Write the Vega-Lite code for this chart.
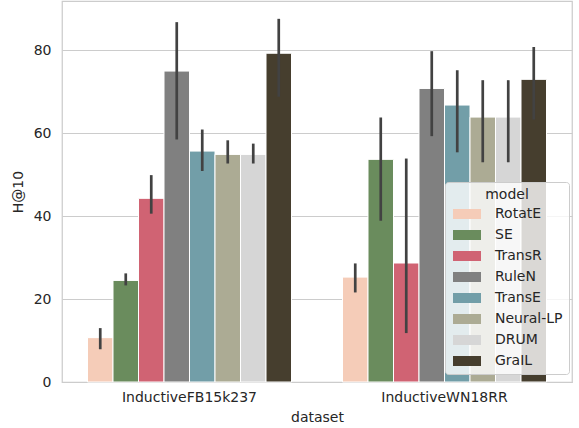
{
  "$schema": "https://vega.github.io/schema/vega-lite/v6.json",
  "autosize": "none",
  "width": 510,
  "height": 381,
  "padding": {"left": 62, "top": 1, "right": 7, "bottom": 46},
  "background": "white",
  "config": {
    "font": "DejaVu Sans",
    "view": {"stroke": "#cccccc", "strokeWidth": 1.25},
    "axis": {
      "labelFont": "DejaVu Sans", "titleFont": "DejaVu Sans",
      "labelFontSize": 14, "titleFontSize": 14, "titleFontWeight": "normal",
      "labelColor": "#262626", "titleColor": "#262626",
      "ticks": false, "tickSize": 0, "domain": false,
      "gridColor": "#cccccc", "gridWidth": 1
    },
    "legend": {
      "labelFont": "DejaVu Sans", "titleFont": "DejaVu Sans"
    }
  },
  "data": {
    "values": [
      {"dataset": "InductiveFB15k237", "model": "RotatE", "value": 10.7, "lo": 7.9, "hi": 13.0},
      {"dataset": "InductiveFB15k237", "model": "SE", "value": 24.5, "lo": 23.3, "hi": 26.2},
      {"dataset": "InductiveFB15k237", "model": "TransR", "value": 44.3, "lo": 40.6, "hi": 49.9},
      {"dataset": "InductiveFB15k237", "model": "RuleN", "value": 75.0, "lo": 58.5, "hi": 86.8},
      {"dataset": "InductiveFB15k237", "model": "TransE", "value": 55.7, "lo": 50.9, "hi": 60.9},
      {"dataset": "InductiveFB15k237", "model": "Neural-LP", "value": 54.9, "lo": 52.7, "hi": 58.3},
      {"dataset": "InductiveFB15k237", "model": "DRUM", "value": 54.9, "lo": 52.7, "hi": 57.5},
      {"dataset": "InductiveFB15k237", "model": "GraIL", "value": 79.3, "lo": 68.8, "hi": 87.6},
      {"dataset": "InductiveWN18RR", "model": "RotatE", "value": 25.3, "lo": 21.6, "hi": 28.6},
      {"dataset": "InductiveWN18RR", "model": "SE", "value": 53.7, "lo": 38.9, "hi": 63.8},
      {"dataset": "InductiveWN18RR", "model": "TransR", "value": 28.7, "lo": 11.8, "hi": 53.9},
      {"dataset": "InductiveWN18RR", "model": "RuleN", "value": 70.8, "lo": 59.3, "hi": 79.8},
      {"dataset": "InductiveWN18RR", "model": "TransE", "value": 66.8, "lo": 55.4, "hi": 75.2},
      {"dataset": "InductiveWN18RR", "model": "Neural-LP", "value": 63.9, "lo": 53.0, "hi": 72.8},
      {"dataset": "InductiveWN18RR", "model": "DRUM", "value": 63.9, "lo": 53.0, "hi": 72.8},
      {"dataset": "InductiveWN18RR", "model": "GraIL", "value": 73.0, "lo": 63.3, "hi": 80.8}
    ]
  },
  "encoding": {
    "x": {
      "field": "dataset", "type": "nominal", "title": "dataset",
      "scale": {"paddingInner": 0.2, "paddingOuter": 0.1},
      "axis": {"labelAngle": 0, "labelPadding": 8, "titlePadding": 6, "grid": false}
    },
    "xOffset": {
      "field": "model", "type": "nominal",
      "sort": ["RotatE", "SE", "TransR", "RuleN", "TransE", "Neural-LP", "DRUM", "GraIL"],
      "scale": {"paddingInner": 0, "paddingOuter": 0}
    }
  },
  "layer": [
    {
      "mark": {"type": "bar", "stroke": "white", "strokeWidth": 1},
      "encoding": {
        "y": {
          "field": "value", "type": "quantitative", "title": "H@10",
          "scale": {"domain": [0, 91.9], "nice": false, "zero": true},
          "axis": {"values": [0, 20, 40, 60, 80], "labelPadding": 11, "titlePadding": 8, "grid": true}
        },
        "color": {
          "field": "model", "type": "nominal",
          "scale": {
            "domain": ["RotatE", "SE", "TransR", "RuleN", "TransE", "Neural-LP", "DRUM", "GraIL"],
            "range": ["#f5ccb8", "#6a8c5d", "#d06373", "#808080", "#729ea8", "#acab94", "#d6d6d6", "#463e2e"]
          },
          "legend": {
            "orient": "none", "legendX": 383, "legendY": 181,
            "title": "model", "titleFontSize": 14, "titleFontWeight": "normal", "titleColor": "#262626",
            "titleAnchor": "middle", "titleAlign": "center", "titlePadding": 5,
            "labelFontSize": 14, "labelColor": "#262626", "labelOffset": 21,
            "symbolType": "M-2.8,-1L2.8,-1L2.8,1L-2.8,1Z", "symbolSize": 100, "symbolOffset": 9,
            "symbolStrokeWidth": 0, "symbolOpacity": 1,
            "rowPadding": 7, "padding": 6,
            "fillColor": "rgba(255,255,255,0.8)", "strokeColor": "#cccccc", "cornerRadius": 3
          }
        }
      }
    },
    {
      "mark": {"type": "rule", "color": "#424242", "strokeWidth": 2.7},
      "encoding": {
        "y": {"field": "lo", "type": "quantitative"},
        "y2": {"field": "hi"}
      }
    }
  ]
}
